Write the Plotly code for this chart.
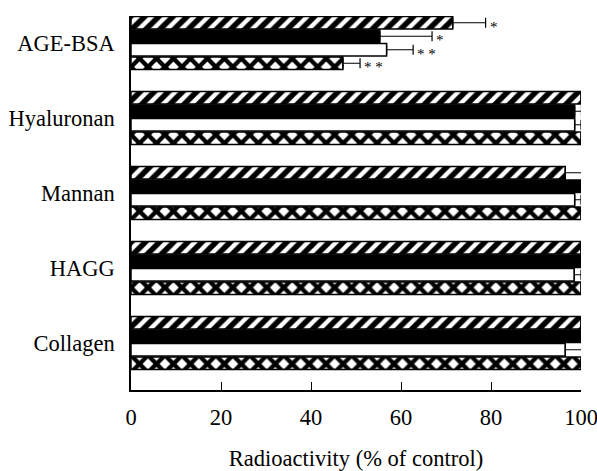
import plotly.graph_objects as go

# ---- data (top-to-bottom as displayed) ----
categories = ["AGE-BSA", "Hyaluronan", "Mannan", "HAGG", "Collagen"]

hatched_vals = [71.5, 100, 96.5, 100, 100]
hatched_err = [7.3, None, 5.0, None, None]
hatched_sig = ["*", "", "", "", ""]

black_vals = [55.3, 98.6, 100, 100, 100]
black_err = [11.6, 1.5, None, None, None]
black_sig = ["*", "", "", "", ""]

white_vals = [56.8, 98.6, 98.6, 98.5, 96.5]
white_err = [5.9, 1.4, 1.4, 1.5, 5.0]
white_sig = ["* *", "", "", "", ""]

cross_vals = [47.1, 100, 100, 100, 100]
cross_err = [3.8, None, None, None, None]
cross_sig = ["* *", "", "", "", ""]

x_ticks = [0, 20, 40, 60, 80, 100]

FONT = "Liberation Serif"
FS = 22.5
BARGAP = 0.28
YRANGE = [-0.627, 4.36]
PLOT_H = 471 - 16 - 81

fig = go.Figure()

# series listed bottom-to-top within each group (plotly draws trace 0 at bottom)
series = [
    ("cross", cross_vals, cross_err, cross_sig,
     dict(color="white", pattern=dict(shape="x", fgcolor="#000000", bgcolor="#ffffff",
                                      fgopacity=1, size=12, solidity=0.6))),
    ("white", white_vals, white_err, white_sig, dict(color="white")),
    ("black", black_vals, black_err, black_sig, dict(color="black")),
    ("hatched", hatched_vals, hatched_err, hatched_sig,
     dict(color="white", pattern=dict(shape="/", fgcolor="#000000", bgcolor="#ffffff",
                                      fgopacity=1, size=10, solidity=0.55))),
]

n = len(series)
px_per_unit = PLOT_H / (YRANGE[1] - YRANGE[0])
bar_h_units = (1 - BARGAP) / n

for i, (name, vals, err, sig, marker) in enumerate(series):
    minus = [0 if e is not None else None for e in err]
    fig.add_trace(go.Bar(
        name=name, y=categories, x=vals, orientation="h",
        marker=dict(**marker, line=dict(color="black", width=1.5)),
        error_x=dict(type="data", array=err, arrayminus=minus, symmetric=False,
                     color="black", thickness=1.2, width=5, visible=True),
        cliponaxis=False, showlegend=False,
    ))
    offset_units = (i - (n - 1) / 2) * bar_h_units
    for c, v, e, s in zip(categories, vals, err, sig):
        if s:
            fig.add_annotation(
                x=v + (e or 0), y=c, text=s, showarrow=False,
                xanchor="left", yanchor="middle", xshift=2,
                yshift=offset_units * px_per_unit - 4,
                font=dict(family=FONT, size=15, color="#000000"),
            )

fig.update_layout(
    barmode="group", bargap=BARGAP, bargroupgap=0.06,
    width=597, height=471,
    margin=dict(l=131, r=16, t=16, b=81, autoexpand=False),
    plot_bgcolor="white", paper_bgcolor="white",
    font=dict(family=FONT, size=FS, color="black"),
)
fig.update_xaxes(
    range=[0, 100], tickvals=x_ticks, ticks="inside", ticklen=8, tickwidth=1.2,
    tickcolor="black", showline=True, linecolor="black", linewidth=1.5,
    showgrid=False, zeroline=False, mirror=False, automargin=False,
    ticklabelstandoff=6, ticklabeloverflow="allow",
    title=dict(text="Radioactivity (% of control)", standoff=36,
               font=dict(family=FONT, size=FS)),
    tickfont=dict(family=FONT, size=FS),
)
fig.update_yaxes(
    categoryorder="array", categoryarray=list(reversed(categories)),
    range=YRANGE, showline=True, linecolor="black", linewidth=1.5,
    ticks="", showgrid=False, zeroline=False, ticklabelstandoff=10,
    automargin=False,
    tickfont=dict(family=FONT, size=FS),
)

fig.write_html("out.html")
